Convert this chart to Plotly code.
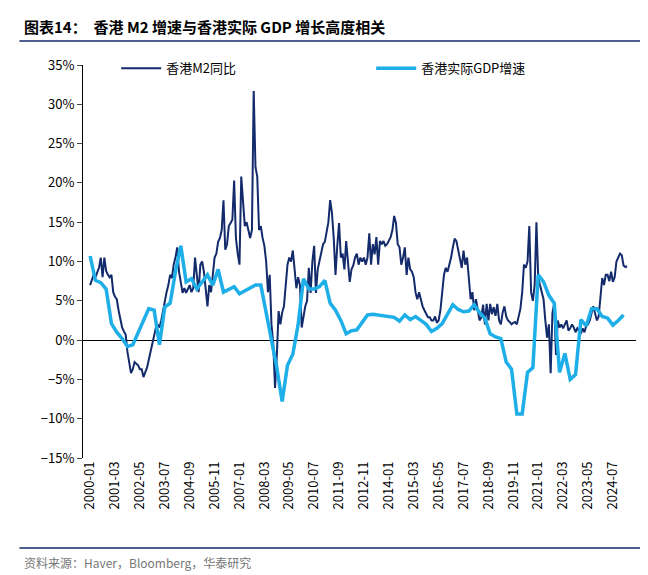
import pandas as pd
import plotly.graph_objects as go

m2 = [7,7.8,8.3,8,8.7,9.2,10.5,8,10.5,8.8,8.3,8,8.3,6.1,5.5,
      5.2,3.8,2.5,1.6,1.1,0.7,-1.5,-2.8,-4.2,-3.7,-2.8,-3,-3.2,-3.7,
      -3.7,-4.7,-4.2,-3.5,-2.5,-1.5,-0.6,0.7,1.6,2,1.6,2.5,3.8,5.2,
      6.1,7,8.3,7.9,9.6,10.5,11.8,8.7,7,6,6.6,6,6.5,7,
      6.1,6.6,10.5,8.3,6.1,9.6,10,8.7,6.1,4.3,7,6.1,8.3,10.5,
      11,12.5,13,14,17.8,11.5,12.2,14.5,14.9,15.3,20.3,13,11,9.6,
      20.8,17,14.5,15,14,13,14,31.7,22,20.8,14,14.5,13,12,
      10,6.1,8.3,2,-0.5,-6.1,-2,3.7,2,3.5,4.3,7,9.6,10.5,
      10,11.4,9,6.6,8,7,1.6,3,4.3,5,9.2,6,10,12,
      6,9,10,11,12.2,12.5,14,15,17.8,16.2,13,8.3,12,14.9,
      10.5,11,9,12.6,10,7.4,9,9.5,10.5,11,9.6,10.5,10,10.5,
      9.6,10.5,13.6,9.6,12.2,10.9,13.1,9.6,12.6,12.2,12.6,12,12.2,12.6,
      13.1,14,15.8,14.9,12.2,11.8,9.6,10.5,11.8,8.3,10.5,9,8.7,8,
      6.1,5.2,6.1,5.2,4.3,3.8,3.4,2.9,2.9,2.5,2.5,3,2.2,2.5,
      3.8,6.1,8.3,9.2,8.7,9.6,10.5,11.8,12.9,12.6,11.4,10.5,9.2,11.4,
      9.6,10.5,8.3,5.2,6.1,3.8,5.2,3.8,2.5,2.9,4.5,2,4.6,2.5,
      4.6,3.3,4.2,3.1,4.6,2.5,2,3.5,4.3,3,2.5,2.3,2,2.2,
      2.3,2,2.9,4,6.1,9.6,9.2,10,14.5,6.1,5,7,15,8,
      7,6.1,5.2,2.5,0.3,2,-4.2,3.4,4.7,-1.9,2.5,1.6,2,1.5,
      2,2.5,1.2,1.5,2,1.6,1,1.5,1.2,0.8,1.5,1,1.8,2,
      2.5,3.4,4.3,3.4,2.5,3,6.1,7.9,7,8.3,8.3,7.5,8.7,7.4,
      8,10,10.5,11,10.8,9.5,9.3,9.4]

gdp = [10.7,7.6,7.3,6.5,2.1,1,0.2,-0.8,-0.6,1,2.5,4,3.8,-0.6,4.2,4.7,8.7,12,7.4,7.8,
       6.5,7.5,8.3,7,9,6.1,6.5,6.8,5.9,6.3,6.7,7,7,3.5,0,-3.5,-7.8,-3.2,-1.8,2,
       7.8,6.5,6.5,6.8,7.6,4.7,3.8,2.5,0.8,1.2,1.3,2.3,3.2,3.3,3.2,3.1,3,2.9,2.4,3.2,
       2.6,3,2.5,2,1.1,1.5,2.1,3.2,4.5,3.9,3.6,3.7,4.5,3.5,2.8,0.8,0.4,0.2,-2.8,-3.7,
       -9.4,-9.4,-4.1,-3.5,8.3,7.4,5.7,4.7,-4.1,-1.7,-5,-4.4,2.6,1.8,4,4,3,2.8,1.9,2.5,3.2]

months = [p.strftime("%Y-%m") for p in pd.period_range("2000-01", periods=len(m2), freq="M")]
gdp_x = [months[3 * i] for i in range(len(gdp)) if 3 * i < len(months)]
tick_labels = months[::14]

FONT = "Noto Sans CJK SC"
fig = go.Figure()
fig.add_trace(go.Scatter(x=months, y=m2, name="香港M2同比", mode="lines",
                         line=dict(color="#132a6b", width=2)))
fig.add_trace(go.Scatter(x=gdp_x, y=gdp[:len(gdp_x)], name="香港实际GDP增速", mode="lines",
                         line=dict(color="#1eaee8", width=3.5)))

fig.update_layout(
    width=648, height=575, plot_bgcolor="white", paper_bgcolor="white",
    margin=dict(l=75, r=20, t=57, b=125),
    font=dict(family=FONT, size=13, color="#000"),
    showlegend=True,
    legend=dict(orientation="h", x=0.06, y=1.03, yanchor="top", xanchor="left",
                font=dict(size=13), bgcolor="rgba(0,0,0,0)", itemwidth=40,
                entrywidth=200),
    xaxis=dict(type="category", categoryorder="array", categoryarray=months,
               tickmode="array", tickvals=tick_labels, ticktext=tick_labels,
               tickangle=-90, showline=False, showgrid=False, ticks="",
               range=[-4, len(months) + 4], tickfont=dict(size=13)),
    yaxis=dict(range=[-15, 35], dtick=5, ticksuffix="%", showgrid=False,
               showline=True, linecolor="#000", linewidth=1, ticks="outside",
               ticklen=5, zeroline=True, zerolinecolor="#000", zerolinewidth=1,
               tickfont=dict(size=13)),
)
fig.add_annotation(text="<b>图表14：  香港 M2 增速与香港实际 GDP 增长高度相关</b>",
                   xref="paper", yref="paper", x=-0.11, y=1.097, xanchor="left",
                   yanchor="middle", showarrow=False, font=dict(size=15, color="#000"))
fig.add_shape(type="line", xref="paper", yref="paper", x0=-0.115, x1=1.03,
              y0=1.061, y1=1.061, line=dict(color="#132a6b", width=1.5))
fig.add_shape(type="line", xref="paper", yref="paper", x0=-0.115, x1=1.03,
              y0=-0.229, y1=-0.229, line=dict(color="#132a6b", width=1.5))
fig.add_annotation(text="资料来源：Haver，Bloomberg，华泰研究",
                   xref="paper", yref="paper", x=-0.11, y=-0.265, xanchor="left",
                   yanchor="middle", showarrow=False, font=dict(size=12, color="#777"))
fig.write_html("out.html")
